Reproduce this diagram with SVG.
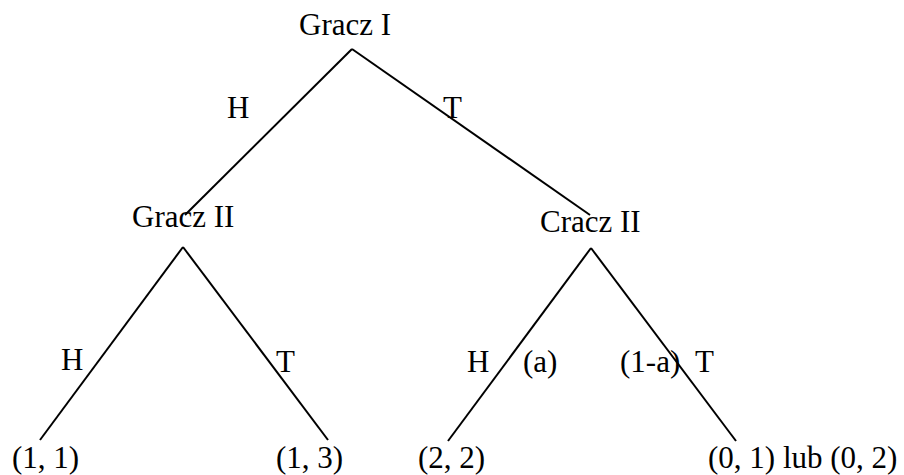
<svg xmlns="http://www.w3.org/2000/svg" width="904" height="475" viewBox="0 0 904 475">
<style>
text{font-family:"Liberation Serif","Times New Roman",serif;font-size:31px;fill:#000}
.e{stroke:#000;stroke-width:2;fill:none}
</style>
<rect width="904" height="475" fill="#fff"/>
<g id="connectors">
<line class="e" x1="352" y1="49" x2="185" y2="215"/>
<line class="e" x1="352" y1="49" x2="590" y2="215"/>
<line class="e" x1="183" y1="247" x2="40" y2="440"/>
<line class="e" x1="183" y1="247" x2="328" y2="440"/>
<line class="e" x1="591" y1="248" x2="448" y2="441"/>
<line class="e" x1="591" y1="248" x2="736" y2="441"/>
<text x="227" y="118">H</text>
<text x="443" y="118">T</text>
<text x="61" y="370">H</text>
<text x="276" y="372">T</text>
<text x="467" y="372">H</text>
<text x="523" y="372">(a)</text>
<text x="620" y="372">(1-a)</text>
<text x="695" y="372">T</text>
</g>
<g id="n_root"><text x="299" y="35">Gracz I</text></g>
<g id="n_g2"><text x="132" y="227">Gracz II</text></g>
<g id="n_c2"><text x="540" y="232">Cracz II</text></g>
<g id="n_l1"><text x="12" y="468">(1, 1)</text></g>
<g id="n_l2"><text x="276" y="468">(1, 3)</text></g>
<g id="n_l3"><text x="418" y="468">(2, 2)</text></g>
<g id="n_l4"><text x="708" y="468">(0, 1) lub (0, 2)</text></g>
</svg>
